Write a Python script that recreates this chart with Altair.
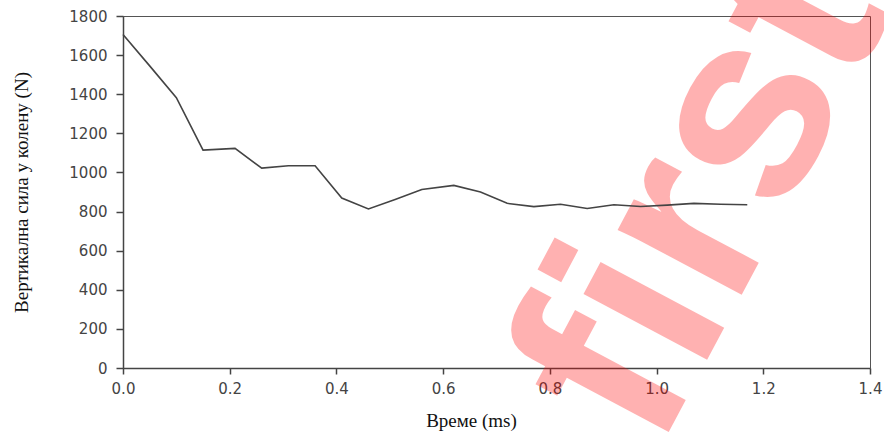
import altair as alt
import pandas as pd

# Data
time_ms = [0.00, 0.05, 0.10, 0.15, 0.21, 0.26, 0.31, 0.36, 0.41, 0.46, 0.51, 0.56,
           0.62, 0.67, 0.72, 0.77, 0.82, 0.87, 0.92, 0.97, 1.02, 1.07, 1.12, 1.17]
force_n = [1705, 1545, 1382, 1114, 1123, 1022, 1034, 1034, 869, 813, 862, 913,
           934, 900, 842, 825, 837, 816, 835, 826, 833, 842, 837, 835]
x_ticks = [0.0, 0.2, 0.4, 0.6, 0.8, 1.0, 1.2, 1.4]
y_ticks = [0, 200, 400, 600, 800, 1000, 1200, 1400, 1600, 1800]
watermark_text = ["first"]

df = pd.DataFrame({"t": time_ms, "f": force_n})
wm_df = pd.DataFrame({"text": watermark_text})

line = alt.Chart(df).mark_line(color="#444444", strokeWidth=1.6).encode(
    x=alt.X("t:Q",
            scale=alt.Scale(domain=[0, 1.4], nice=False, zero=False),
            axis=alt.Axis(values=x_ticks, format=".1f", title="Време (ms)",
                          tickSize=6, labelPadding=7, labelFlush=False,
                          labelOverlap=False,
                          titleX=348, titleY=58, titleAlign="center",
                          titleBaseline="alphabetic")),
    y=alt.Y("f:Q",
            scale=alt.Scale(domain=[0, 1800], nice=False),
            axis=alt.Axis(values=y_ticks, format="d",
                          title="Вертикална сила у колену (N)",
                          tickSize=7, labelPadding=9, labelFlush=False,
                          labelOverlap=False,
                          titleX=-102, titleY=176, titleAngle=270,
                          titleAlign="center", titleBaseline="middle")),
)

watermark = alt.Chart(wm_df).mark_text(
    font="Liberation Sans", fontWeight="bold", fontSize=265, angle=298,
    align="left", baseline="alphabetic", color="#ff0000", opacity=0.3,
).encode(text="text:N", x=alt.value(534), y=alt.value(438))

chart = alt.layer(watermark, line).properties(
    width=747, height=352,
    autosize=alt.AutoSizeParams(type="none"),
    padding={"left": 123, "top": 16, "right": 14, "bottom": 64},
    background="white",
).configure_view(
    stroke="#555555", strokeWidth=1
).configure_axis(
    grid=False, zindex=1,
    domainColor="#444444", domainWidth=1.5,
    tickColor="#444444", tickWidth=1.5,
    labelFont="DejaVu Sans", labelFontSize=15, labelColor="#444444",
    titleFont="Liberation Serif", titleFontSize=19, titleFontWeight="normal",
    titleColor="#111111",
)

chart.save("out.html", embed_options={"renderer": "svg", "actions": False})
